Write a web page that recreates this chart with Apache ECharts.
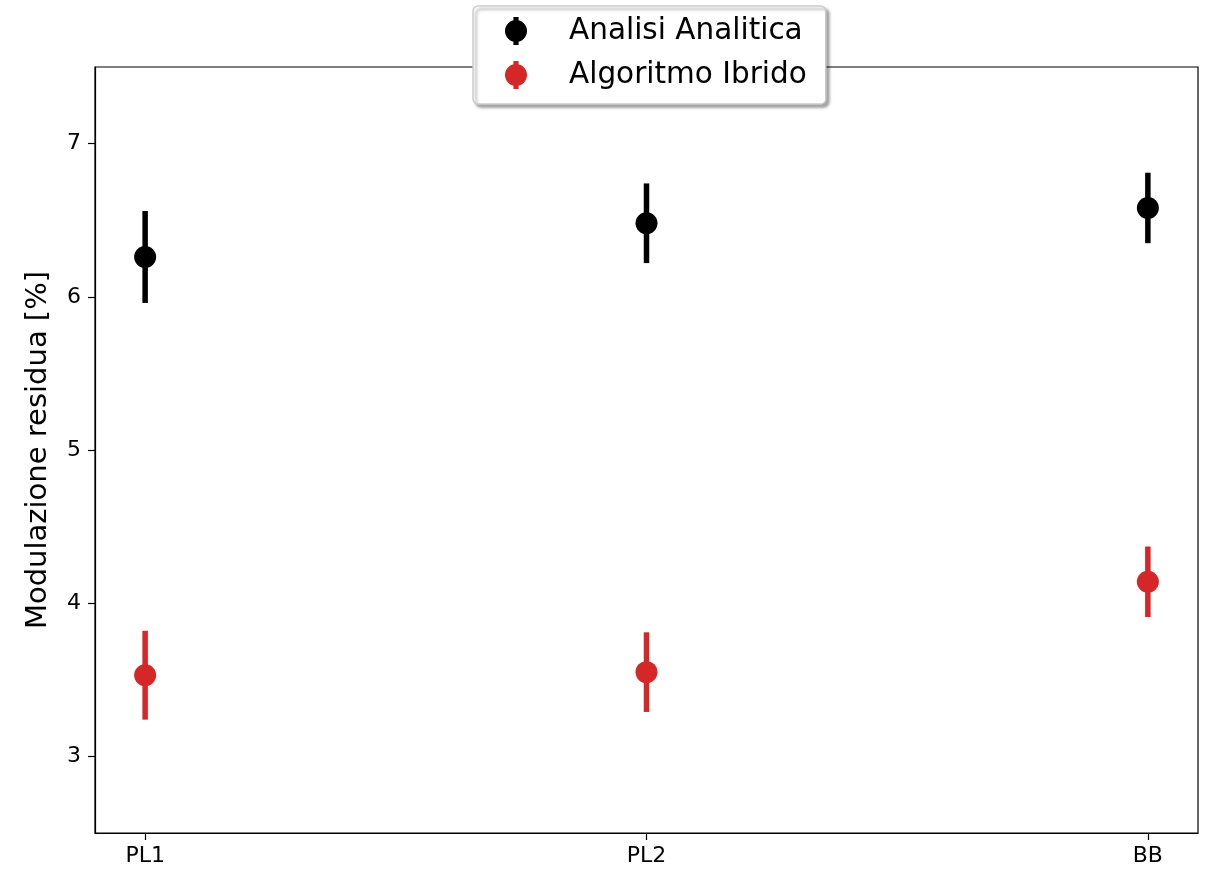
<!DOCTYPE html>
<html>
<head>
<meta charset="utf-8">
<script src="https://cdn.jsdelivr.net/npm/echarts@6/dist/echarts.min.js"></script>
<style>html,body{margin:0;padding:0;background:#fff}#c{width:1214px;height:873px}</style>
</head>
<body>
<div id="c"></div>
<script>
const categories = ['PL1', 'PL2', 'BB'];
const analiticaValues = [6.26, 6.48, 6.58];
const analiticaErrors = [0.30, 0.26, 0.23];
const ibridoValues = [3.53, 3.55, 4.14];
const ibridoErrors = [0.29, 0.26, 0.23];
const yTicks = [3, 4, 5, 6, 7];
const seriesNames = ['Analisi Analitica', 'Algoritmo Ibrido'];
const colors = ['#000000', '#d62728'];

const FONT = 'DejaVu Sans';
const chart = echarts.init(document.getElementById('c'));

function pts(vals, errs) {
  return vals.map((v, i) => [i, v, errs[i]]);
}
function errSeries(name, data, color) {
  return {
    type: 'custom', name: name, data: data, z: 2, silent: true,
    encode: { x: 0, y: 1 },
    itemStyle: { color: color },
    renderItem: function (params, api) {
      const x = api.value(0), y = api.value(1), e = api.value(2);
      const p1 = api.coord([x, y - e]);
      const p2 = api.coord([x, y + e]);
      return {
        type: 'line',
        shape: { x1: p1[0], y1: p1[1], x2: p2[0], y2: p2[1] },
        style: { stroke: color, lineWidth: 5.5 }
      };
    }
  };
}
const iconPath = 'path://M-2.6,-14 L2.6,-14 L2.6,14 L-2.6,14 Z M-11,0 A11,11 0 1,1 11,0 A11,11 0 1,1 -11,0 Z';

chart.setOption({
  animation: false,
  textStyle: { fontFamily: FONT },
  grid: { left: 95, right: 16, top: 67, bottom: 40, show: true, borderColor: '#000', borderWidth: 1.2, backgroundColor: 'transparent' },
  legend: {
    left: 473, top: 6, orient: 'vertical',
    data: seriesNames.map((n, i) => ({ name: n, icon: iconPath, itemStyle: { color: colors[i] } })),
    itemWidth: 28, itemHeight: 28, itemGap: 14,
    padding: [10, 19, 14, 32],
    backgroundColor: '#fff', borderColor: '#cccccc', borderWidth: 1.5, borderRadius: 5,
    shadowColor: 'rgba(0,0,0,0.35)', shadowBlur: 3, shadowOffsetX: 3, shadowOffsetY: 3,
    textStyle: { fontFamily: FONT, fontSize: 29.5, color: '#000', padding: [0, 0, 0, 34], lineHeight: 28 },
    selectedMode: false
  },
  xAxis: {
    type: 'value', min: -0.1, max: 2.1,
    splitLine: { show: false },
    axisLine: { show: true, onZero: false, lineStyle: { color: '#000', width: 1.2 } },
    axisTick: { show: true, length: 7, lineStyle: { color: '#000', width: 1.2 }, customValues: [0, 1, 2] },
    axisLabel: { customValues: [0, 1, 2], fontFamily: FONT, fontSize: 22, color: '#000', margin: 12,
      formatter: v => categories[Math.round(v)] }
  },
  yAxis: {
    type: 'value', min: 2.5, max: 7.5,
    name: 'Modulazione residua [%]', nameLocation: 'middle', nameGap: 42,
    nameTextStyle: { fontFamily: FONT, fontSize: 29, color: '#000' },
    splitLine: { show: false },
    axisLine: { show: true, onZero: false, lineStyle: { color: '#000', width: 1.2 } },
    axisTick: { show: true, length: 7, lineStyle: { color: '#000', width: 1.2 }, customValues: yTicks },
    axisLabel: { customValues: yTicks, fontFamily: FONT, fontSize: 22, color: '#000', margin: 14 }
  },
  series: [
    errSeries(seriesNames[0], pts(analiticaValues, analiticaErrors), colors[0]),
    errSeries(seriesNames[1], pts(ibridoValues, ibridoErrors), colors[1]),
    { type: 'scatter', name: seriesNames[0], data: pts(analiticaValues, analiticaErrors), symbolSize: 22, z: 3,
      itemStyle: { color: colors[0], opacity: 1 } },
    { type: 'scatter', name: seriesNames[1], data: pts(ibridoValues, ibridoErrors), symbolSize: 22, z: 3,
      itemStyle: { color: colors[1], opacity: 1 } }
  ]
});
</script>
</body>
</html>
